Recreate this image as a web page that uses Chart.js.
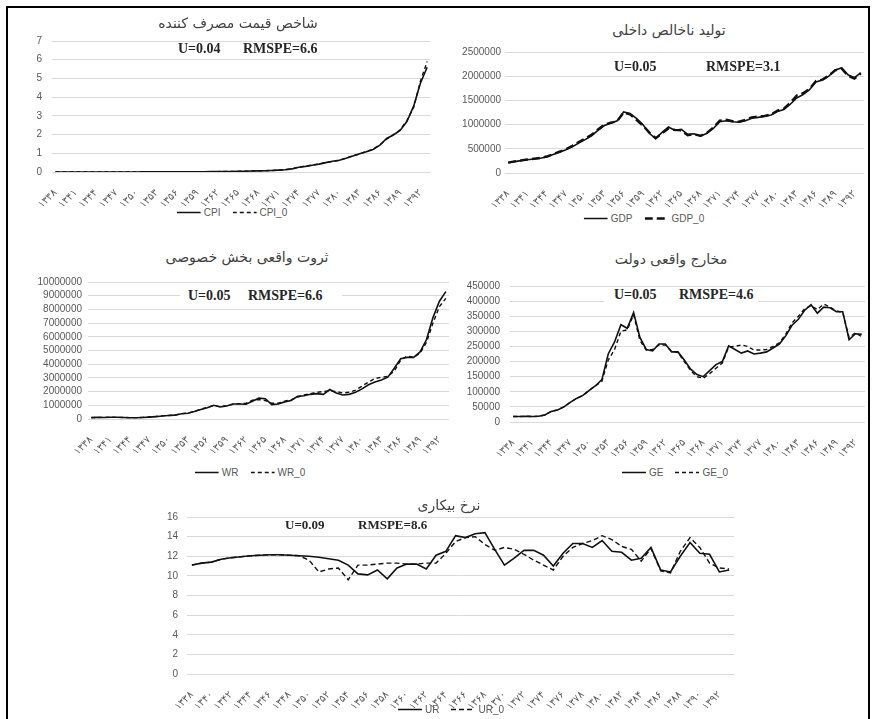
<!DOCTYPE html>
<html>
<head>
<meta charset="utf-8">
<script src="https://cdn.jsdelivr.net/npm/chart.js@4.4.1/dist/chart.umd.min.js"></script>
<style>
  body { margin: 0; width: 872px; height: 719px; background: #fff; position: relative; overflow: hidden; }
  .frame { position: absolute; left: 6px; top: 6px; width: 860px; height: 730px; border: 2px solid #000; border-bottom: none; }
  .box { position: absolute; }
  .title { position: absolute; font-family: 'DejaVu Sans', sans-serif; font-size: 14px; color: #404040;
           transform: translate(-50%, -50%); white-space: nowrap; direction: rtl; }
  .stat { position: absolute; font-family: 'Liberation Serif', serif; font-weight: bold; font-size: 14px;
          color: #262626; transform: translateY(-50%); white-space: nowrap; }
  .statbg { position: absolute; background: #fff; }
  .legend { position: absolute; display: flex; align-items: center; transform: translate(-50%, -50%);
            font-family: 'Liberation Sans', sans-serif; font-size: 10px; color: #595959; white-space: nowrap; }
  .legend svg { margin: 0 3px 0 0; }
  .legend span { margin-right: 12px; }
</style>
</head>
<body>
<div class="frame"></div>

<script>
// years 1338 - 1393 (solar hijri), as printed on the axes
const yearLabels = ['۱۳۳۸','۱۳۳۹','۱۳۴۰','۱۳۴۱','۱۳۴۲','۱۳۴۳','۱۳۴۴','۱۳۴۵','۱۳۴۶','۱۳۴۷',
  '۱۳۴۸','۱۳۴۹','۱۳۵۰','۱۳۵۱','۱۳۵۲','۱۳۵۳','۱۳۵۴','۱۳۵۵','۱۳۵۶','۱۳۵۷',
  '۱۳۵۸','۱۳۵۹','۱۳۶۰','۱۳۶۱','۱۳۶۲','۱۳۶۳','۱۳۶۴','۱۳۶۵','۱۳۶۶','۱۳۶۷',
  '۱۳۶۸','۱۳۶۹','۱۳۷۰','۱۳۷۱','۱۳۷۲','۱۳۷۳','۱۳۷۴','۱۳۷۵','۱۳۷۶','۱۳۷۷',
  '۱۳۷۸','۱۳۷۹','۱۳۸۰','۱۳۸۱','۱۳۸۲','۱۳۸۳','۱۳۸۴','۱۳۸۵','۱۳۸۶','۱۳۸۷',
  '۱۳۸۸','۱۳۸۹','۱۳۹۰','۱۳۹۱','۱۳۹۲','۱۳۹۳'];

// consumer price index
const cpi = [0.003,0.003,0.003,0.003,0.003,0.003,0.003,0.0032,0.0033,0.0034,
  0.0036,0.0038,0.004,0.0043,0.0048,0.0055,0.006,0.007,0.0088,0.0097,
  0.011,0.013,0.016,0.019,0.022,0.024,0.025,0.031,0.040,0.052,
  0.06,0.066,0.08,0.10,0.12,0.165,0.25,0.30,0.36,0.42,
  0.50,0.57,0.63,0.73,0.85,0.97,1.08,1.20,1.43,1.79,
  1.98,2.22,2.70,3.52,4.74,5.60];
const cpi0 = [0.003,0.003,0.003,0.003,0.003,0.003,0.003,0.0032,0.0033,0.0034,
  0.0036,0.0038,0.004,0.0043,0.0048,0.0055,0.006,0.007,0.0088,0.0097,
  0.011,0.013,0.016,0.019,0.022,0.024,0.026,0.032,0.041,0.053,
  0.061,0.068,0.082,0.10,0.125,0.17,0.26,0.31,0.37,0.43,
  0.51,0.56,0.62,0.74,0.87,0.95,1.10,1.22,1.45,1.75,
  2.00,2.25,2.75,3.45,4.85,5.90];

// gross domestic product
const gdp = [210000,235000,255000,275000,290000,305000,330000,380000,430000,480000,
  540000,620000,690000,770000,880000,980000,1030000,1080000,1260000,1230000,
  1130000,1000000,820000,710000,840000,950000,880000,900000,800000,810000,
  760000,820000,920000,1060000,1080000,1060000,1050000,1080000,1130000,1150000,
  1170000,1200000,1270000,1310000,1420000,1550000,1620000,1720000,1880000,1920000,
  2000000,2130000,2170000,2030000,1970000,2070000];
const gdp0 = [215000,240000,260000,280000,295000,310000,340000,390000,440000,490000,
  560000,640000,710000,790000,900000,1000000,1040000,1070000,1250000,1210000,
  1100000,980000,840000,720000,820000,920000,890000,880000,780000,800000,
  770000,830000,940000,1080000,1100000,1070000,1060000,1100000,1150000,1170000,
  1180000,1210000,1290000,1330000,1450000,1600000,1650000,1740000,1900000,1930000,
  2010000,2120000,2160000,2010000,1950000,2060000];

// real private sector wealth
const wr = [100000,120000,110000,130000,130000,110000,90000,90000,110000,140000,
  170000,220000,260000,280000,380000,420000,550000,700000,820000,1000000,
  880000,950000,1100000,1100000,1080000,1300000,1520000,1480000,1050000,1100000,
  1250000,1350000,1650000,1700000,1800000,1850000,1800000,2150000,1900000,1750000,
  1800000,1950000,2200000,2500000,2700000,2850000,3050000,3700000,4400000,4500000,
  4500000,4900000,5800000,7400000,8600000,9300000];
const wr0 = [100000,110000,120000,130000,120000,110000,100000,100000,120000,150000,
  180000,230000,260000,290000,390000,430000,560000,720000,850000,980000,
  900000,980000,1080000,1120000,1150000,1380000,1420000,1350000,1150000,1150000,
  1300000,1400000,1600000,1750000,1850000,1950000,2000000,2050000,2000000,1900000,
  1950000,2100000,2400000,2700000,2950000,3050000,3100000,3500000,4300000,4600000,
  4500000,4800000,5600000,7000000,8200000,8800000];

// real government expenditure
const ge = [18000,18000,19000,18000,19000,23000,35000,40000,50000,65000,
  78000,88000,105000,120000,140000,225000,265000,322000,310000,362000,
  280000,240000,235000,258000,258000,232000,232000,205000,175000,157000,
  150000,170000,190000,200000,252000,240000,228000,235000,225000,228000,
  232000,245000,258000,285000,320000,340000,370000,388000,360000,380000,
  378000,365000,365000,272000,292000,290000];
const ge0 = [18000,18000,19000,18000,19000,23000,35000,40000,50000,65000,
  78000,88000,105000,120000,135000,205000,240000,300000,305000,355000,
  270000,238000,240000,255000,255000,235000,230000,200000,170000,150000,
  145000,160000,178000,195000,248000,250000,255000,250000,238000,238000,
  240000,250000,262000,290000,328000,350000,375000,385000,372000,390000,
  380000,368000,362000,280000,295000,282000];

// unemployment rate
const ur = [11.1,11.3,11.4,11.7,11.85,11.95,12.05,12.1,12.15,12.15,
  12.1,12.05,12.0,11.9,11.75,11.6,11.1,10.2,10.1,10.6,
  9.7,10.8,11.2,11.2,10.7,12.1,12.5,14.1,13.9,14.3,
  14.4,12.7,11.1,11.8,12.6,12.6,12.1,11.0,12.3,13.3,
  13.3,12.9,13.6,12.5,12.4,11.6,11.8,12.9,10.6,10.4,
  12.0,13.4,12.3,12.2,10.4,10.6];
const ur0 = [11.1,11.3,11.4,11.7,11.85,11.95,12.05,12.1,12.15,12.15,
  12.1,12.05,11.6,10.4,10.7,10.8,9.6,11.1,11.1,11.2,
  11.3,11.3,11.2,11.2,11.3,11.3,12.3,13.5,13.9,14.0,
  13.2,12.6,12.9,12.7,12.2,11.6,11.1,10.6,12.0,12.9,
  13.3,13.6,14.1,13.7,13.0,12.7,11.5,12.8,10.5,10.3,
  12.5,13.9,12.9,11.3,10.8,10.7];

const panels = [
  { title: 'شاخص قیمت مصرف کننده', names: ['CPI', 'CPI_0'], a: cpi, b: cpi0,
    yMin: 0, yMax: 7, yStep: 1, every: 3,
    area: { l: 52, t: 35, r: 432, b: 172 }, yW: 42, tickPad: 10,
    titleAt: [238, 23], legendAt: [232, 212],
    stats: [[178, 49, 'U=0.04'], [243, 49, 'RMSPE=6.6']], bg: null,
    dash: [4, 3], dashW: 1.4 },
  { title: 'تولید ناخالص داخلی', names: ['GDP', 'GDP_0'], a: gdp, b: gdp0,
    yMin: 0, yMax: 2500000, yStep: 500000, every: 3,
    area: { l: 505, t: 52, r: 866, b: 173 }, yW: 60, tickPad: 4,
    titleAt: [669, 30], legendAt: [644, 218],
    stats: [[614, 67, 'U=0.05'], [706, 67, 'RMSPE=3.1']], bg: null,
    dash: [8, 4], dashW: 2.4 },
  { title: 'ثروت واقعی بخش خصوصی', names: ['WR', 'WR_0'], a: wr, b: wr0,
    yMin: 0, yMax: 10000000, yStep: 1000000, every: 3,
    area: { l: 88, t: 280, r: 451, b: 419 }, yW: 60, tickPad: 6,
    titleAt: [247, 257], legendAt: [250, 472],
    stats: [[188, 296, 'U=0.05'], [248, 296, 'RMSPE=6.6']], bg: [180, 288, 162, 16],
    dash: [4, 3], dashW: 1.4 },
  { title: 'مخارج واقعی دولت', names: ['GE', 'GE_0'], a: ge, b: ge0,
    yMin: 0, yMax: 450000, yStep: 50000, every: 3,
    area: { l: 510, t: 280, r: 867, b: 422 }, yW: 55, tickPad: 10,
    titleAt: [671, 259], legendAt: [675, 472],
    stats: [[614, 295, 'U=0.05'], [679, 295, 'RMSPE=4.6']], bg: [604, 287, 154, 16],
    dash: [4, 3], dashW: 1.4 },
  { title: 'نرخ بیکاری', names: ['UR', 'UR_0'], a: ur, b: ur0,
    yMin: 0, yMax: 16, yStep: 2, every: 2,
    area: { l: 187, t: 512, r: 734, b: 674 }, yW: 30, tickPad: 9,
    titleAt: [449, 505], legendAt: [451, 709],
    stats: [[285, 525, 'U=0.09'], [358, 525, 'RMSPE=8.6']], bg: null, statSize: 13,
    dash: [5, 3], dashW: 1.4 }
];

const padTop = 10, padRight = 4, xAxisH = 34;

function addDiv(cls, x, y, html) {
  const d = document.createElement('div');
  d.className = cls;
  d.style.left = x + 'px';
  d.style.top = y + 'px';
  d.innerHTML = html;
  document.body.appendChild(d);
  return d;
}

function lineSample(dash, w) {
  const da = dash ? ` stroke-dasharray="${dash.join(' ')}"` : '';
  return `<svg width="24" height="6"><line x1="0" y1="3" x2="24" y2="3" stroke="#111" stroke-width="${w}"${da}/></svg>`;
}

panels.forEach(p => {
  const left = p.area.l - p.yW;
  const top = p.area.t - padTop;
  const w = p.area.r - p.area.l + p.yW + padRight;
  const h = p.area.b - p.area.t + padTop + xAxisH;

  const box = document.createElement('div');
  box.className = 'box';
  box.style.cssText = `left:${left}px;top:${top}px;width:${w}px;height:${h}px;`;
  const canvas = document.createElement('canvas');
  box.appendChild(canvas);
  document.body.appendChild(box);

  new Chart(canvas, {
    type: 'line',
    data: {
      labels: yearLabels,
      datasets: [{
        label: p.names[0],
        data: p.a,
        borderColor: '#111',
        borderWidth: 1.6,
        pointRadius: 0,
        tension: 0
      }, {
        label: p.names[1],
        data: p.b,
        borderColor: '#111',
        borderWidth: p.dashW,
        borderDash: p.dash,
        pointRadius: 0,
        tension: 0
      }]
    },
    options: {
      responsive: true,
      maintainAspectRatio: false,
      animation: false,
      layout: { padding: { left: 0, top: padTop, right: padRight, bottom: 0 } },
      plugins: { legend: { display: false }, title: { display: false }, tooltip: { enabled: false } },
      scales: {
        x: {
          offset: true,
          grid: { display: false },
          border: { display: false },
          afterFit: s => { s.height = xAxisH; },
          ticks: {
            autoSkip: false,
            minRotation: 45,
            maxRotation: 45,
            padding: 7,
            color: '#595959',
            font: { family: 'DejaVu Sans', size: 10 },
            callback: (v, i) => (i % p.every === 0 ? yearLabels[i] : null)
          }
        },
        y: {
          min: p.yMin,
          max: p.yMax,
          afterFit: s => { s.width = p.yW; },
          grid: { color: '#d9d9d9', drawTicks: false },
          border: { display: false },
          ticks: {
            stepSize: p.yStep,
            autoSkip: false,
            padding: p.tickPad,
            color: '#595959',
            font: { family: 'Liberation Sans', size: 10 },
            callback: v => String(v)
          }
        }
      }
    }
  });

  addDiv('title', p.titleAt[0], p.titleAt[1], p.title);
  if (p.bg) {
    const b = addDiv('statbg', p.bg[0], p.bg[1], '');
    b.style.width = p.bg[2] + 'px';
    b.style.height = p.bg[3] + 'px';
  }
  p.stats.forEach(s => {
    const d = addDiv('stat', s[0], s[1], s[2]);
    if (p.statSize) d.style.fontSize = p.statSize + 'px';
  });
  addDiv('legend', p.legendAt[0], p.legendAt[1],
    lineSample(null, 1.6) + `<span>${p.names[0]}</span>` +
    lineSample(p.dash, p.dashW) + `<span style="margin-right:0">${p.names[1]}</span>`);
});
</script>
</body>
</html>
